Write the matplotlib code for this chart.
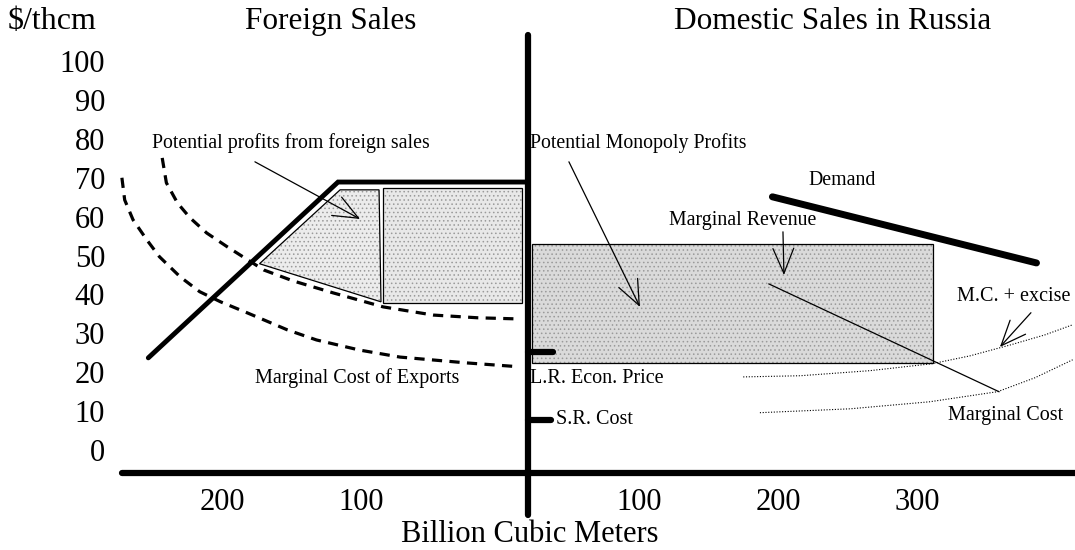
import matplotlib
matplotlib.use("Agg")
import matplotlib.pyplot as plt

plt.rcParams["font.family"] = ["Liberation Serif", "DejaVu Serif"]
plt.rcParams["hatch.linewidth"] = 0.6

# price axis ($/thcm) and quantity axis (billion cubic meters, foreign side negative)
price_ticks = [0, 10, 20, 30, 40, 50, 60, 70, 80, 90, 100]
qty_ticks = [-200, -100, 100, 200, 300]
qty_labels = ["200", "100", "100", "200", "300"]

# foreign side
export_supply_x = [-253, -116.5, 20]
export_supply_y = [25.2, 70.4, 70.4]
mc_exports_upper_x = [-243, -240, -232, -223, -211, -196, -185, -170, -149, -120, -84, -48, -16, 14]
mc_exports_upper_y = [76.6, 70.2, 65.0, 61.2, 57.3, 53.7, 51.2, 47.8, 45.0, 41.9, 38.3, 36.2, 35.5, 35.2]
mc_exports_lower_x = [-272, -270, -264, -254, -245, -230, -216, -201, -182, -153, -132, -101, -72, -24, 14]
mc_exports_lower_y = [71.5, 65.8, 60.7, 55.5, 51.2, 46.0, 42.2, 39.6, 36.8, 32.4, 29.8, 27.2, 25.4, 23.9, 22.9]
profit_wedge_x = [-173, -115, -87, -85.6]
profit_wedge_y = [49.4, 68.4, 68.4, 39.6]
profit_box_x = [-84.2, 15.8]
profit_box_y = [39.3, 68.9]

# domestic side
demand_x = [196, 386]
demand_y = [66.6, 49.6]
mr_x = [193.5, 359]
mr_y = [44.2, 16.5]
mc_excise_x = [175, 216, 266, 311, 338, 367, 392, 412]
mc_excise_y = [20.3, 20.6, 21.9, 23.7, 25.7, 28.5, 31.1, 33.7]
mc_dom_x = [187, 252, 309, 358, 385, 412]
mc_dom_y = [11.1, 12.1, 13.9, 16.5, 20.1, 24.7]
monopoly_x = [23, 311.5]
monopoly_y = [23.9, 54.5]
lr_price = 26.7
sr_cost = 9.3

fig = plt.figure(figsize=(10.75, 5.5), dpi=100)
ax = fig.add_axes([0, 0, 1, 1])
ax.set_xlim(-359.7, 413.7)
ax.set_ylim(-24.2, 117.2)
ax.axis("off")


def shaded(xs, ys, face):
    ax.fill(xs, ys, facecolor=face, edgecolor="#9a9a9a", hatch="....", linewidth=0, zorder=1)
    ax.fill(xs, ys, facecolor="none", edgecolor="black", linewidth=0.9, zorder=2)


shaded(profit_wedge_x, profit_wedge_y, "#ececec")
bx = [profit_box_x[0], profit_box_x[1], profit_box_x[1], profit_box_x[0]]
by = [profit_box_y[0], profit_box_y[0], profit_box_y[1], profit_box_y[1]]
shaded(bx, by, "#e8e8e8")
mx = [monopoly_x[0], monopoly_x[1], monopoly_x[1], monopoly_x[0]]
my = [monopoly_y[0], monopoly_y[0], monopoly_y[1], monopoly_y[1]]
shaded(mx, my, "#dadada")

# axes
ax.plot([20, 20], [-15.2, 108.2], color="black", lw=4.5, solid_capstyle="round", zorder=5)
ax.plot([-272, 413.7], [-4.4, -4.4], color="black", lw=4.5, solid_capstyle="round", zorder=5)
ax.plot([20, 38], [lr_price, lr_price], color="black", lw=4.5, solid_capstyle="round", zorder=5)
ax.plot([20, 37], [sr_cost, sr_cost], color="black", lw=4.5, solid_capstyle="round", zorder=5)

# curves
ax.plot(mc_exports_upper_x, mc_exports_upper_y, color="black", lw=2.3, dashes=(3.2, 2.3), zorder=3)
ax.plot(mc_exports_lower_x, mc_exports_lower_y, color="black", lw=2.3, dashes=(3.2, 2.3), zorder=3)
ax.plot(export_supply_x, export_supply_y, color="black", lw=3.5, solid_capstyle="round",
        solid_joinstyle="miter", zorder=4)
ax.plot(demand_x, demand_y, color="black", lw=5, solid_capstyle="round", zorder=4)
ax.plot(mr_x, mr_y, color="black", lw=0.9, zorder=4)
ax.plot(mc_excise_x, mc_excise_y, color="black", lw=0.8, ls=(0, (1, 1.5)), zorder=3)
ax.plot(mc_dom_x, mc_dom_y, color="black", lw=0.8, ls=(0, (1, 1.5)), zorder=3)

# arrows
arrow = dict(arrowstyle="->,head_length=1.2,head_width=0.5", lw=0.9, color="black",
             mutation_scale=15, shrinkA=0, shrinkB=0)
ax.annotate("", xy=(-100.7, 60.9), xytext=(-176.3, 75.6), arrowprops=arrow, zorder=6)
ax.annotate("", xy=(100.7, 38.3), xytext=(49.6, 75.6), arrowprops=arrow, zorder=6)
ax.annotate("", xy=(204.3, 46.5), xytext=(203.6, 57.6), arrowprops=arrow, zorder=6)
ax.annotate("", xy=(359.7, 28.0), xytext=(382, 36.8), arrowprops=arrow, zorder=6)

# labels
for p in price_ticks:
    ax.text(-284, p + 0.6, str(p), ha="right", va="center", fontsize=22)
for q, lab in zip(qty_ticks, qty_labels):
    ax.text(q, -12.1, lab, ha="center", va="center", fontsize=22)

ax.text(-354, 111.6, "$/thcm", ha="left", va="center", fontsize=23)
ax.text(-122, 111.6, "Foreign Sales", ha="center", va="center", fontsize=22.5)
ax.text(239.6, 111.6, "Domestic Sales in Russia", ha="center", va="center", fontsize=22.5)
ax.text(21.6, -20.3, "Billion Cubic Meters", ha="center", va="center", fontsize=22)

ax.text(-250.4, 80.5, "Potential profits from foreign sales", ha="left", va="center", fontsize=14.3)
ax.text(21.6, 80.5, "Potential Monopoly Profits", ha="left", va="center", fontsize=14.3)
ax.text(222, 70.7, "Demand", ha="left", va="center", fontsize=14.3)
ax.text(174.8, 60.4, "Marginal Revenue", ha="center", va="center", fontsize=14.3)
ax.text(328.8, 40.9, "M.C. + excise", ha="left", va="center", fontsize=14.5)
ax.text(21.6, 20.0, "L.R. Econ. Price", ha="left", va="center", fontsize=14.5)
ax.text(40.3, 9.3, "S.R. Cost", ha="left", va="center", fontsize=14.5)
ax.text(322.3, 10.5, "Marginal Cost", ha="left", va="center", fontsize=14.5)
ax.text(-103, 20.0, "Marginal Cost of Exports", ha="center", va="center", fontsize=14.5)

fig.savefig("out.png", dpi=100)
